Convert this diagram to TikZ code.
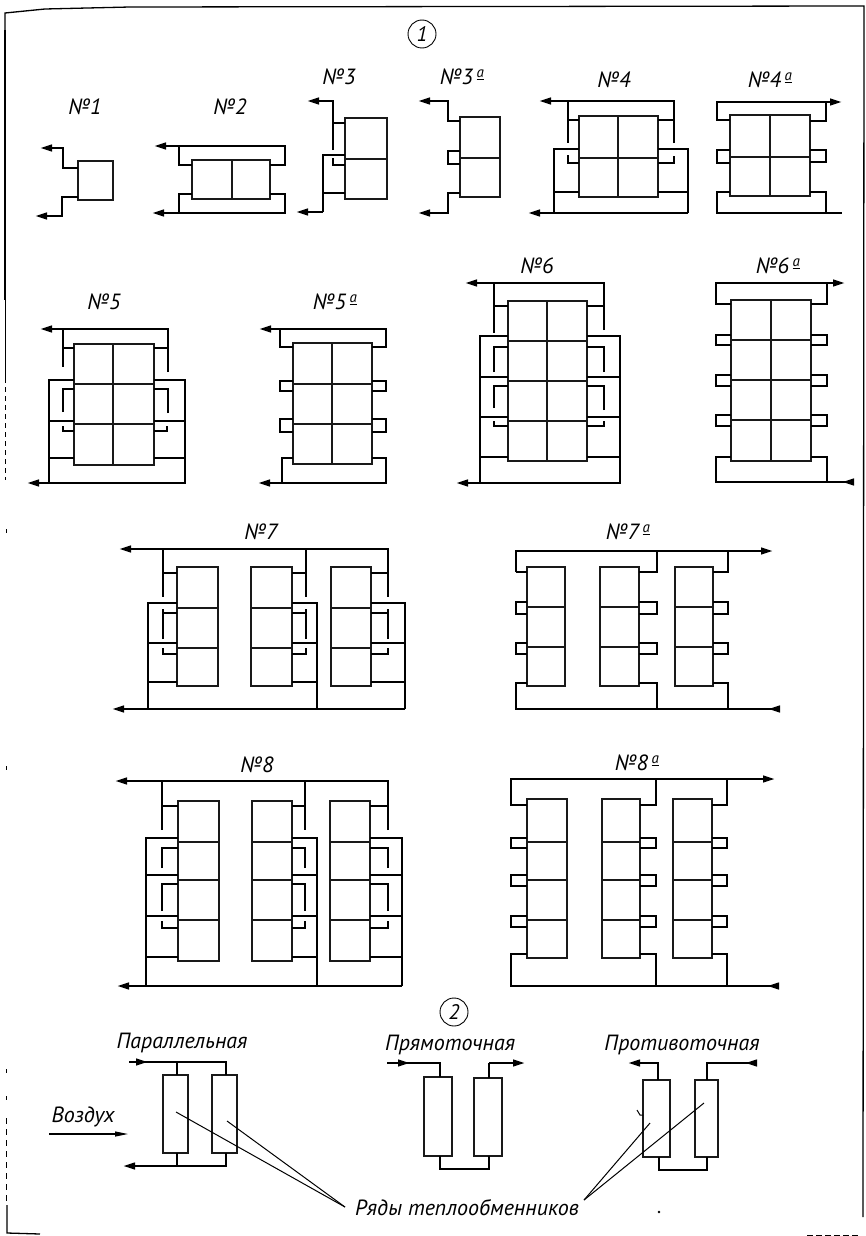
\documentclass[tikz,border=0pt]{standalone}
\usepackage{fontspec}
\setmainfont{PT Sans}
\usetikzlibrary{arrows.meta}
\tikzset{
  pipe/.style={line width=2.5pt,line join=miter,line cap=butt},
  thinpipe/.style={line width=1.7pt,line join=miter},
  tipped/.style={pipe,-{Stealth[length=12pt,width=6.5pt,inset=0pt]}},
  cell/.style={line width=1.2pt,draw=black!90},
  leader/.style={line width=1pt},
  frameline/.style={line width=1.3pt},
  lab/.style={inner sep=0pt,font=\fontsize{22}{22}\selectfont\itshape},
  numcircle/.style={circle,draw,line width=0.9pt,minimum size=28pt,inner sep=0pt,font=\fontsize{21}{21}\selectfont\itshape}
}
\newcommand{\supa}{\raisebox{0.62ex}{\fontsize{15}{15}\selectfont\underline{а}}}
% x1 x2 y1 y2 list-of-horizontal-dividers
\newcommand{\Rows}[5]{\draw[cell] (#1,#3) rectangle (#2,#4);\foreach \m in {#5} \draw[cell] (#1,\m) -- (#2,\m);}
% cell-x outer-x y1 y2 : a U-shaped loop on a bank side
\newcommand{\Lp}[4]{\draw[pipe] (#1,#3) -- (#2,#3) -- (#2,#4) -- (#1,#4);}
\begin{document}
\begin{tikzpicture}[x=1pt,y=-1pt]
\useasboundingbox (0,0) rectangle (865,1236);
% page frame
\draw[frameline] (5,80) -- (5,13) -- (45,9) -- (130,7) -- (864,6) -- (863,1217);
\draw[line width=1.8pt] (5,30) -- (5,300);
\draw[line width=0.9pt] (5,300) -- (5,378);
\draw[line width=1pt,dash pattern=on 5pt off 4pt] (5,378) -- (5,480);
\foreach \a/\b in {529/533,766/770,1069/1073,1096/1100} \draw[line width=1pt] (6,\a) -- (6,\b);
\draw[line width=1pt,dash pattern=on 6pt off 5pt] (6,1118) -- (6,1205);
\draw[frameline] (7,1205) -- (7,1233) -- (40,1234);
\draw[line width=1pt,dash pattern=on 6pt off 3pt] (807,1235) -- (860,1235);
% circled numbers
\node[numcircle] (c1) at (422,34) {1};
\node[numcircle] (c2) at (454,1012) {2};
% titles
\node[lab] (n1) at (85,107) {№1};
\node[lab] (n2) at (230,107) {№2};
\node[lab] (n3) at (339,77) {№3};
\node[lab] (n3a) at (462,77) {№3\,\supa};
\node[lab] (n4) at (614,80) {№4};
\node[lab] (n4a) at (770,80) {№4\,\supa};
\node[lab] (n5) at (104,302) {№5};
\node[lab] (n5a) at (335,302) {№5\,\supa};
\node[lab] (n6) at (537,266) {№6};
\node[lab] (n6a) at (778,266) {№6\,\supa};
\node[lab] (n7) at (261,532) {№7};
\node[lab] (n7a) at (628,532) {№7\,\supa};
\node[lab] (n8) at (257,765) {№8};
\node[lab] (n8a) at (637,763) {№8\,\supa};
% --- No 1
\Rows{78}{113}{161}{200}{}
\draw[tipped] (78,168) -- (63,168) -- (63,148) -- (40,148);
\draw[tipped] (78,197) -- (62,197) -- (62,216) -- (35,216);
% --- No 2
\Rows{192}{270}{160}{199}{}
\draw[cell] (232,160) -- (232,199);
\draw[pipe] (270,165) -- (285,165) -- (285,146) -- (179,146);
\draw[tipped] (179,146) -- (154,146);
\draw[pipe] (179,146) -- (179,165) -- (192,165);
\draw[pipe] (270,194) -- (285,194) -- (285,213) -- (179,213);
\draw[tipped] (179,213) -- (152,213);
\draw[pipe] (179,213) -- (179,194) -- (192,194);
% --- No 3
\Rows{345}{387}{118}{199}{159}
\draw[tipped] (333,150) -- (333,101) -- (307,101);
\draw[pipe] (333,123) -- (345,123);
\draw[pipe] (333,158) -- (333,165) -- (345,165);
\draw[pipe] (345,155) -- (323,155) -- (323,212);
\draw[tipped] (323,212) -- (296,212);
\draw[thinpipe] (323,193) -- (345,193);
% --- No 3a
\Rows{460}{500}{117}{197}{158}
\draw[tipped] (460,121) -- (448,121) -- (448,101) -- (418,101);
\Lp{460}{448}{151}{164}
\draw[tipped] (460,193) -- (448,193) -- (448,213) -- (418,213);
% --- No 4
\Rows{579}{658}{116}{197}{158}
\draw[cell] (618,116) -- (618,197);
\draw[pipe] (674,143) -- (674,101) -- (568,101);
\draw[tipped] (568,101) -- (539,101);
\draw[thinpipe] (568,101) -- (568,143);
\draw[pipe] (568,120) -- (579,120);
\draw[pipe] (658,120) -- (674,120);
\draw[pipe] (568,155) -- (568,163) -- (579,163);
\draw[pipe] (674,156) -- (674,163) -- (658,163);
\draw[thinpipe] (658,149) -- (688,149) -- (688,213);
\draw[pipe] (688,213) -- (554,213);
\draw[tipped] (554,213) -- (528,213);
\draw[pipe] (579,149) -- (554,149) -- (554,213);
\draw[pipe] (554,192) -- (579,192);
\draw[pipe] (658,192) -- (688,192);
% --- No 4a
\Rows{730}{810}{115}{196}{157}
\draw[cell] (770,115) -- (770,196);
\draw[pipe] (730,120) -- (717,120) -- (717,102) -- (826,102);
\draw[tipped] (826,102) -- (842,102);
\draw[pipe] (810,121) -- (826,121) -- (826,102);
\Lp{730}{717}{150}{163}
\Lp{810}{826}{150}{162}
\draw[pipe] (730,192) -- (717,192) -- (717,213) -- (842,213);
\draw[pipe] (810,192) -- (826,192) -- (826,213);
% --- No 5
\Rows{74}{154}{344}{465}{384,424}
\draw[cell] (113,344) -- (113,465);
\draw[pipe] (168,372) -- (168,329) -- (63,329);
\draw[tipped] (63,329) -- (40,329);
\draw[thinpipe] (63,329) -- (63,367);
\draw[pipe] (63,348) -- (74,348);
\draw[pipe] (154,348) -- (168,348);
\draw[pipe] (63,412) -- (63,389) -- (74,389);
\draw[pipe] (168,413) -- (168,389) -- (154,389);
\draw[pipe] (63,426) -- (63,431) -- (74,431);
\draw[pipe] (167,426) -- (167,431) -- (154,431);
\draw[pipe] (154,380) -- (185,380) -- (185,483) -- (49,483);
\draw[tipped] (49,483) -- (27,483);
\draw[pipe] (74,380) -- (49,380) -- (49,483);
\foreach \y in {421,458} {\draw[pipe] (49,\y) -- (74,\y);\draw[pipe] (154,\y) -- (185,\y);}
% --- No 5a
\Rows{293}{372}{343}{464}{384,424}
\draw[cell] (332,343) -- (332,464);
\draw[pipe] (293,347) -- (280,347) -- (280,329) -- (386,329) -- (386,347) -- (372,347);
\draw[tipped] (280,329) -- (259,329);
\Lp{293}{280}{381}{391}
\Lp{372}{386}{381}{391}
\Lp{293}{280}{419}{432}
\Lp{372}{386}{419}{432}
\draw[pipe] (293,458) -- (282,458) -- (282,483) -- (386,483) -- (386,458) -- (372,458);
\draw[tipped] (282,483) -- (258,483);
% --- No 6
\Rows{508}{587}{301}{461}{341,381,421}
\draw[cell] (547,301) -- (547,461);
\draw[pipe] (604,330) -- (604,283) -- (494,283);
\draw[tipped] (494,283) -- (465,283);
\draw[thinpipe] (494,283) -- (494,333);
\draw[pipe] (494,306) -- (508,306);
\draw[pipe] (587,306) -- (604,306);
\draw[pipe] (494,372) -- (494,347) -- (508,347);
\draw[pipe] (604,372) -- (604,347) -- (587,347);
\draw[pipe] (494,408) -- (494,386) -- (508,386);
\draw[pipe] (604,410) -- (604,386) -- (587,386);
\draw[pipe] (494,421) -- (494,426) -- (508,426);
\draw[pipe] (604,421) -- (604,426) -- (587,426);
\draw[pipe] (587,336) -- (620,336) -- (620,483) -- (480,483);
\draw[tipped] (480,483) -- (456,483);
\draw[pipe] (508,336) -- (480,336) -- (480,483);
\foreach \y in {377,417,457} {\draw[pipe] (480,\y) -- (508,\y);\draw[pipe] (587,\y) -- (620,\y);}
% --- No 6a
\Rows{731}{811}{300}{461}{340,380,420}
\draw[cell] (771,300) -- (771,461);
\draw[pipe] (731,304) -- (716,304) -- (716,283) -- (827,283);
\draw[tipped] (827,283) -- (845,283);
\draw[pipe] (811,304) -- (827,304) -- (827,283);
\foreach \a/\b in {335/345,375/386,415/426} {\Lp{731}{716}{\a}{\b}\Lp{811}{827}{\a}{\b}}
\draw[pipe] (731,457) -- (716,457) -- (716,482) -- (852,482);
\draw[tipped] (852,482) -- (842,482);
\draw[pipe] (811,457) -- (827,457) -- (827,482);
% --- No 7
\Rows{177}{218}{567}{686}{608,648}
\Rows{251}{292}{567}{686}{608,648}
\Rows{331}{371}{567}{686}{608,648}
\draw[pipe] (388,596) -- (388,549) -- (163,549);
\draw[tipped] (163,549) -- (119,549);
\foreach \o/\c/\r in {163/177/148,306/292/317,388/371/405} {
  \draw[thinpipe] (\o,549) -- (\o,597);
  \draw[pipe] (\c,573) -- (\o,573);
  \draw[thinpipe] (\o,639) -- (\o,609);
  \draw[pipe] (\c,613) -- (\o,613);
  \draw[pipe] (\o,648) -- (\o,654) -- (\c,654);
  \draw[thinpipe] (\c,603) -- (\r,603) -- (\r,709);
  \draw[pipe] (\c,643) -- (\r,643);
  \draw[pipe] (\c,682) -- (\r,682);
}
\draw[pipe] (405,709) -- (148,709);
\draw[tipped] (148,709) -- (112,709);
% --- No 7a
\Rows{527}{565}{567}{686}{607,647}
\Rows{600}{639}{567}{686}{607,647}
\Rows{675}{713}{567}{686}{607,647}
\draw[pipe] (516,572) -- (516,551) -- (728,551);
\draw[tipped] (728,551) -- (773,551);
\draw[pipe] (527,572) -- (516,572);
\draw[pipe] (639,572) -- (657,572) -- (657,551);
\draw[pipe] (713,572) -- (728,572) -- (728,551);
\Lp{527}{516}{602}{614}
\Lp{527}{516}{643}{654}
\Lp{639}{657}{602}{614}
\Lp{639}{657}{643}{654}
\Lp{713}{728}{602}{614}
\Lp{713}{728}{643}{654}
\draw[pipe] (527,683) -- (516,683) -- (516,709) -- (778,709);
\draw[tipped] (778,709) -- (768,709);
\draw[pipe] (639,683) -- (657,683) -- (657,709);
\draw[pipe] (713,683) -- (728,683) -- (728,709);
% --- No 8
\Rows{178}{219}{801}{961}{842,880,920}
\Rows{252}{292}{801}{961}{842,880,920}
\Rows{330}{370}{801}{961}{842,880,920}
\draw[pipe] (388,830) -- (388,781) -- (162,781);
\draw[tipped] (162,781) -- (115,781);
\foreach \o/\c/\r in {162/178/146,305/292/317,388/370/402} {
  \draw[thinpipe] (\o,781) -- (\o,830);
  \draw[pipe] (\c,806) -- (\o,806);
  \draw[pipe] (\o,868) -- (\o,848) -- (\c,848);
  \draw[pipe] (\o,911) -- (\o,884) -- (\c,884);
  \draw[pipe] (\o,921) -- (\o,928) -- (\c,928);
  \draw[pipe] (\c,838) -- (\r,838) -- (\r,986);
  \draw[pipe] (\c,875) -- (\r,875);
  \draw[pipe] (\c,916) -- (\r,916);
  \draw[pipe] (\c,957) -- (\r,957);
}
\draw[pipe] (402,986) -- (146,986);
\draw[tipped] (146,986) -- (117,986);
% --- No 8a
\Rows{527}{567}{799}{958}{842,880,920}
\Rows{602}{640}{799}{958}{842,880,920}
\Rows{673}{712}{799}{958}{842,880,920}
\draw[pipe] (527,805) -- (511,805) -- (511,779) -- (727,779);
\draw[tipped] (727,779) -- (775,779);
\draw[pipe] (640,805) -- (656,805) -- (656,779);
\draw[pipe] (712,805) -- (727,805) -- (727,779);
\foreach \a/\b in {838/848,875/886,916/927} {\Lp{527}{511}{\a}{\b}\Lp{640}{656}{\a}{\b}\Lp{712}{727}{\a}{\b}}
\draw[pipe] (527,954) -- (511,954) -- (511,986) -- (778,986);
\draw[tipped] (778,986) -- (767,986);
\draw[pipe] (640,954) -- (656,954) -- (656,986);
\draw[pipe] (712,954) -- (727,954) -- (727,986);
% --- section 2: parallel
\node[lab] (par) at (182,1043) {Параллельная};
\draw[cell] (163,1075) rectangle (188,1153);
\draw[cell] (212,1075) rectangle (237,1153);
\draw[pipe] (129,1062) -- (226,1062) -- (226,1075);
\draw[tipped] (129,1062) -- (148,1062);
\draw[pipe] (177,1062) -- (177,1075);
\draw[pipe] (226,1153) -- (226,1166) -- (177,1166);
\draw[tipped] (177,1166) -- (123,1166);
\draw[pipe] (177,1153) -- (177,1166);
\node[lab] (air) at (83,1117) {Воздух};
\coordinate (airA) at (49,1134);
\coordinate (airB) at (128,1134);
\draw[line width=1.1pt,-{Stealth[length=13pt,width=5pt,inset=0pt]}] (airA) -- (airB);
% --- section 2: direct
\node[lab] (dir) at (450,1045) {Прямоточная};
\draw[cell] (424,1077) rectangle (452,1156);
\draw[cell] (474,1078) rectangle (502,1156);
\draw[pipe] (387,1063) -- (440,1063) -- (440,1077);
\draw[tipped] (387,1063) -- (410,1063);
\draw[pipe] (489,1078) -- (489,1063);
\draw[tipped] (489,1063) -- (525,1063);
\draw[pipe] (440,1156) -- (440,1169) -- (489,1169) -- (489,1156);
% --- section 2: counter
\node[lab] (cnt) at (682,1045) {Противоточная};
\draw[cell] (643,1080) rectangle (670,1157);
\draw[cell] (695,1080) rectangle (718,1157);
\draw[tipped] (658,1080) -- (658,1063) -- (628,1063);
\draw[pipe] (707,1080) -- (707,1063) -- (757,1063);
\draw[tipped] (757,1063) -- (745,1063);
\draw[pipe] (659,1157) -- (659,1170) -- (707,1170) -- (707,1157);
\draw[line width=1pt] (637,1110) -- (640,1115) -- (643,1115);
\fill (659,1212) circle (1.3pt);
% --- leaders
\node[lab] (rows) at (467,1208) {Ряды теплообменников};
\draw[leader] (176,1112) -- (345,1207);
\draw[leader] (227,1121) -- (345,1207);
\draw[leader] (650,1123) -- (584,1200);
\draw[leader] (704,1103) -- (584,1200);
\end{tikzpicture}
\end{document}
